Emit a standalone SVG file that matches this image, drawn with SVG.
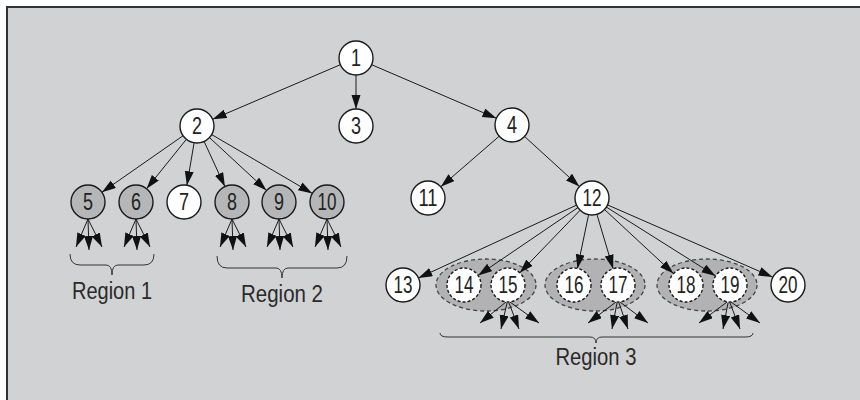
<svg xmlns="http://www.w3.org/2000/svg" width="860" height="400" viewBox="0 0 860 400">
<style>
.n circle{fill:#ffffff;stroke:#1a1a1a;stroke-width:1.4}
.g circle{fill:#b5b6b8}
.d circle{stroke-dasharray:3,2}
text{font-family:"Liberation Sans",Arial,sans-serif;fill:#222;text-anchor:middle}
.num{font-size:23px}
.lab{font-size:23px;fill:#2a2a2a}
.e line{stroke:#1a1a1a;stroke-width:1;marker-end:url(#ah)}
.br{fill:none;stroke:#333;stroke-width:1}
.ell{fill:#b2b2b4;stroke:#444;stroke-width:1.3;stroke-dasharray:4,3}
</style>
<defs>
<marker id="ah" markerUnits="userSpaceOnUse" markerWidth="15" markerHeight="10" refX="14" refY="4.5" orient="auto">
<path d="M0,0 L14,4.5 L0,9 z" fill="#111"/>
</marker>
</defs>
<rect x="0" y="0" width="860" height="400" fill="#ffffff"/>
<rect x="7" y="7" width="853" height="393" fill="#d1d2d4"/>
<path d="M7,400 L7,7 L860,7" fill="none" stroke="#333" stroke-width="2"/>

<g id="groups">
<ellipse class="ell" cx="486" cy="285" rx="50" ry="26"/>
<ellipse class="ell" cx="595" cy="285" rx="50" ry="26"/>
<ellipse class="ell" cx="707" cy="285" rx="50" ry="26"/>
</g>

<g id="connectors" class="e">
<line x1="340.4" y1="64.7" x2="212.6" y2="119.3"/>
<line x1="356" y1="75" x2="356" y2="109"/>
<line x1="371.6" y1="64.7" x2="496.4" y2="118.3"/>
<line x1="183.1" y1="135.7" x2="101.9" y2="192.3"/>
<line x1="186.4" y1="139.3" x2="146.6" y2="188.7"/>
<line x1="194.1" y1="142.8" x2="186.9" y2="185.2"/>
<line x1="204.1" y1="141.4" x2="224.9" y2="186.6"/>
<line x1="209.5" y1="137.6" x2="266.5" y2="190.4"/>
<line x1="211.7" y1="134.6" x2="312.3" y2="193.4"/>
<line x1="499.2" y1="136.2" x2="440.8" y2="186.8"/>
<line x1="524.6" y1="136.5" x2="579.4" y2="186.5"/>
<line x1="576.6" y1="205.1" x2="418.4" y2="277.9"/>
<line x1="577.9" y1="207.6" x2="478.1" y2="275.4"/>
<line x1="580.2" y1="210.2" x2="519.8" y2="272.8"/>
<line x1="588.6" y1="214.6" x2="577.4" y2="268.4"/>
<line x1="596.9" y1="214.3" x2="613.1" y2="268.7"/>
<line x1="604.5" y1="209.5" x2="673.5" y2="273.5"/>
<line x1="606.4" y1="207.1" x2="715.6" y2="275.9"/>
<line x1="607.5" y1="204.9" x2="772.5" y2="277"/>
<line x1="88" y1="219" x2="76" y2="247"/><line x1="88" y1="219" x2="89" y2="250"/><line x1="88" y1="219" x2="102" y2="247"/>
<line x1="136" y1="219" x2="124" y2="247"/><line x1="136" y1="219" x2="137" y2="250"/><line x1="136" y1="219" x2="150" y2="247"/>
<line x1="232" y1="219" x2="220" y2="247"/><line x1="232" y1="219" x2="233" y2="250"/><line x1="232" y1="219" x2="246" y2="247"/>
<line x1="279" y1="219" x2="267" y2="247"/><line x1="279" y1="219" x2="280" y2="250"/><line x1="279" y1="219" x2="293" y2="247"/>
<line x1="327" y1="219" x2="315" y2="247"/><line x1="327" y1="219" x2="328" y2="250"/><line x1="327" y1="219" x2="341" y2="247"/>
<line x1="506" y1="302" x2="480" y2="323"/><line x1="507" y1="303" x2="501" y2="329"/><line x1="509" y1="303" x2="519" y2="329"/><line x1="510" y1="302" x2="539" y2="323"/>
<line x1="616" y1="302" x2="588" y2="323"/><line x1="617" y1="303" x2="612" y2="329"/><line x1="619" y1="303" x2="628" y2="329"/><line x1="620" y1="302" x2="648" y2="323"/>
<line x1="727" y1="302" x2="699" y2="323"/><line x1="728" y1="303" x2="723" y2="329"/><line x1="730" y1="303" x2="740" y2="329"/><line x1="731" y1="302" x2="760" y2="323"/>
</g>

<g id="n1" class="n"><circle cx="356" cy="58" r="17"/><text class="num" x="356" y="66.3" textLength="10" lengthAdjust="spacingAndGlyphs">1</text></g>
<g id="n2" class="n"><circle cx="197" cy="126" r="17"/><text class="num" x="197" y="134.3" textLength="10" lengthAdjust="spacingAndGlyphs">2</text></g>
<g id="n3" class="n"><circle cx="356" cy="126" r="17"/><text class="num" x="356" y="134.3" textLength="10" lengthAdjust="spacingAndGlyphs">3</text></g>
<g id="n4" class="n"><circle cx="512" cy="125" r="17"/><text class="num" x="512" y="133.3" textLength="10" lengthAdjust="spacingAndGlyphs">4</text></g>
<g id="n5" class="n g"><circle cx="88" cy="202" r="17"/><text class="num" x="88" y="210.3" textLength="10" lengthAdjust="spacingAndGlyphs">5</text></g>
<g id="n6" class="n g"><circle cx="136" cy="202" r="17"/><text class="num" x="136" y="210.3" textLength="10" lengthAdjust="spacingAndGlyphs">6</text></g>
<g id="n7" class="n"><circle cx="184" cy="202" r="17"/><text class="num" x="184" y="210.3" textLength="10" lengthAdjust="spacingAndGlyphs">7</text></g>
<g id="n8" class="n g"><circle cx="232" cy="202" r="17"/><text class="num" x="232" y="210.3" textLength="10" lengthAdjust="spacingAndGlyphs">8</text></g>
<g id="n9" class="n g"><circle cx="279" cy="202" r="17"/><text class="num" x="279" y="210.3" textLength="10" lengthAdjust="spacingAndGlyphs">9</text></g>
<g id="n10" class="n g"><circle cx="327" cy="202" r="17"/><text class="num" x="327" y="210.3" textLength="19" lengthAdjust="spacingAndGlyphs">10</text></g>
<g id="n11" class="n"><circle cx="428" cy="198" r="17"/><text class="num" x="428" y="206.3" textLength="19" lengthAdjust="spacingAndGlyphs">11</text></g>
<g id="n12" class="n"><circle cx="592" cy="198" r="17"/><text class="num" x="592" y="206.3" textLength="19" lengthAdjust="spacingAndGlyphs">12</text></g>
<g id="n13" class="n"><circle cx="403" cy="285" r="17"/><text class="num" x="403" y="293.3" textLength="19" lengthAdjust="spacingAndGlyphs">13</text></g>
<g id="n14" class="n d"><circle cx="464" cy="285" r="17"/><text class="num" x="464" y="293.3" textLength="19" lengthAdjust="spacingAndGlyphs">14</text></g>
<g id="n15" class="n d"><circle cx="508" cy="285" r="17"/><text class="num" x="508" y="293.3" textLength="19" lengthAdjust="spacingAndGlyphs">15</text></g>
<g id="n16" class="n d"><circle cx="574" cy="285" r="17"/><text class="num" x="574" y="293.3" textLength="19" lengthAdjust="spacingAndGlyphs">16</text></g>
<g id="n17" class="n d"><circle cx="618" cy="285" r="17"/><text class="num" x="618" y="293.3" textLength="19" lengthAdjust="spacingAndGlyphs">17</text></g>
<g id="n18" class="n d"><circle cx="686" cy="285" r="17"/><text class="num" x="686" y="293.3" textLength="19" lengthAdjust="spacingAndGlyphs">18</text></g>
<g id="n19" class="n d"><circle cx="730" cy="285" r="17"/><text class="num" x="730" y="293.3" textLength="19" lengthAdjust="spacingAndGlyphs">19</text></g>
<g id="n20" class="n"><circle cx="788" cy="285" r="17"/><text class="num" x="788" y="293.3" textLength="19" lengthAdjust="spacingAndGlyphs">20</text></g>

<g id="region1">
<path class="br" d="M70,254 Q70,265 80,265 L106,265 Q112,265 112,275 Q112,265 118,265 L144,265 Q154,265 154,254"/>
<text class="lab" x="112" y="299" textLength="80" lengthAdjust="spacingAndGlyphs">Region 1</text>
</g>
<g id="region2">
<path class="br" d="M217,256 Q217,268 227,268 L276,268 Q282,268 282,278 Q282,268 288,268 L337,268 Q347,268 347,256"/>
<text class="lab" x="282" y="302" textLength="82" lengthAdjust="spacingAndGlyphs">Region 2</text>
</g>
<g id="region3">
<path class="br" d="M440,333 Q440,337 448,337 L590,337 Q596,337 596,343 Q596,337 602,337 L745,337 Q753,337 753,333"/>
<text class="lab" x="596" y="365" textLength="81" lengthAdjust="spacingAndGlyphs">Region 3</text>
</g>
</svg>
